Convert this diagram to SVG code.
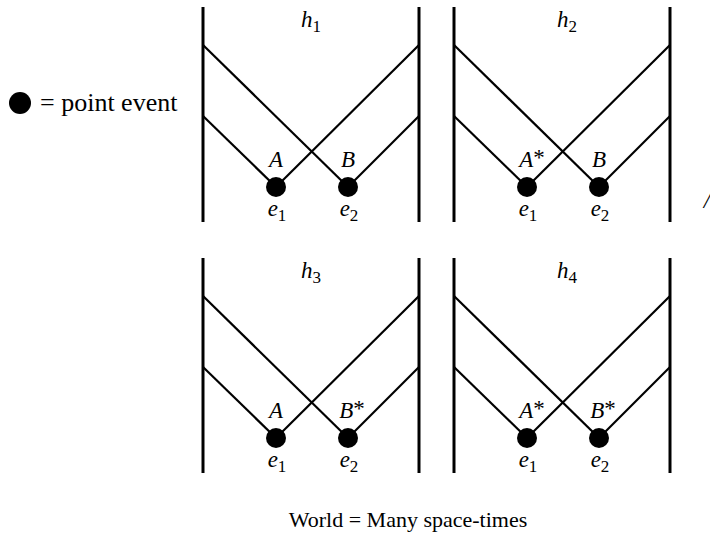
<svg xmlns="http://www.w3.org/2000/svg" width="710" height="540" viewBox="0 0 710 540">
<style>
.v{stroke:#000;stroke-width:3;fill:none}
.d{stroke:#000;stroke-width:2.2;fill:none}
.dot{fill:#000}
.t{font-family:"Liberation Serif","Times New Roman",serif;fill:#000}
.m{font-family:"Liberation Serif","Times New Roman",serif;font-style:italic;font-size:23px;fill:#000;text-anchor:middle}
.s{font-style:normal;font-size:17px}
.st{font-style:normal}
</style>
<rect width="710" height="540" fill="#fff"/>
<g id="legend">
<circle class="dot" cx="20" cy="103" r="11"/>
<text class="t" x="40" y="111" font-size="26">= point event</text>
</g>
<g id="connectors">
<line class="d" x1="203" y1="45" x2="348" y2="187"/>
<line class="d" x1="203" y1="116" x2="276" y2="187"/>
<line class="d" x1="419" y1="45" x2="276" y2="187"/>
<line class="d" x1="419" y1="116" x2="348" y2="187"/>
<line class="d" x1="454" y1="45" x2="599" y2="187"/>
<line class="d" x1="454" y1="116" x2="527" y2="187"/>
<line class="d" x1="670" y1="45" x2="527" y2="187"/>
<line class="d" x1="670" y1="116" x2="599" y2="187"/>
<line class="d" x1="203" y1="296" x2="348" y2="438"/>
<line class="d" x1="203" y1="367" x2="276" y2="438"/>
<line class="d" x1="419" y1="296" x2="276" y2="438"/>
<line class="d" x1="419" y1="367" x2="348" y2="438"/>
<line class="d" x1="454" y1="296" x2="599" y2="438"/>
<line class="d" x1="454" y1="367" x2="527" y2="438"/>
<line class="d" x1="670" y1="296" x2="527" y2="438"/>
<line class="d" x1="670" y1="367" x2="599" y2="438"/>
</g>
<g id="h1">
<line class="v" x1="203" y1="7" x2="203" y2="222"/>
<line class="v" x1="419" y1="7" x2="419" y2="222"/>
<text class="m" x="311" y="27">h<tspan class="s" dy="5">1</tspan></text>
<circle class="dot" cx="276" cy="187" r="10"/>
<circle class="dot" cx="348" cy="187" r="10"/>
<text class="m" x="276" y="167">A</text>
<text class="m" x="348" y="167">B</text>
<text class="m" x="277" y="216">e<tspan class="s" dy="5">1</tspan></text>
<text class="m" x="349" y="216">e<tspan class="s" dy="5">2</tspan></text>
</g>
<g id="h2">
<line class="v" x1="454" y1="7" x2="454" y2="222"/>
<line class="v" x1="670" y1="7" x2="670" y2="222"/>
<text class="m" x="567" y="27">h<tspan class="s" dy="5">2</tspan></text>
<circle class="dot" cx="527" cy="187" r="10"/>
<circle class="dot" cx="599" cy="187" r="10"/>
<text class="m" x="532" y="167">A<tspan class="st" dy="-2">*</tspan></text>
<text class="m" x="599" y="167">B</text>
<text class="m" x="528" y="216">e<tspan class="s" dy="5">1</tspan></text>
<text class="m" x="600" y="216">e<tspan class="s" dy="5">2</tspan></text>
</g>
<g id="h3">
<line class="v" x1="203" y1="258" x2="203" y2="473"/>
<line class="v" x1="419" y1="258" x2="419" y2="473"/>
<text class="m" x="311" y="278">h<tspan class="s" dy="5">3</tspan></text>
<circle class="dot" cx="276" cy="438" r="10"/>
<circle class="dot" cx="348" cy="438" r="10"/>
<text class="m" x="276" y="418">A</text>
<text class="m" x="352" y="418">B<tspan class="st" dy="-2">*</tspan></text>
<text class="m" x="277" y="467">e<tspan class="s" dy="5">1</tspan></text>
<text class="m" x="349" y="467">e<tspan class="s" dy="5">2</tspan></text>
</g>
<g id="h4">
<line class="v" x1="454" y1="258" x2="454" y2="473"/>
<line class="v" x1="670" y1="258" x2="670" y2="473"/>
<text class="m" x="567" y="278">h<tspan class="s" dy="5">4</tspan></text>
<circle class="dot" cx="527" cy="438" r="10"/>
<circle class="dot" cx="599" cy="438" r="10"/>
<text class="m" x="532" y="418">A<tspan class="st" dy="-2">*</tspan></text>
<text class="m" x="603" y="418">B<tspan class="st" dy="-2">*</tspan></text>
<text class="m" x="528" y="467">e<tspan class="s" dy="5">1</tspan></text>
<text class="m" x="600" y="467">e<tspan class="s" dy="5">2</tspan></text>
</g>
<text class="m" x="707" y="208" font-size="20">/</text>
<text class="t" x="408" y="527" font-size="22" text-anchor="middle">World = Many space-times</text>
</svg>
